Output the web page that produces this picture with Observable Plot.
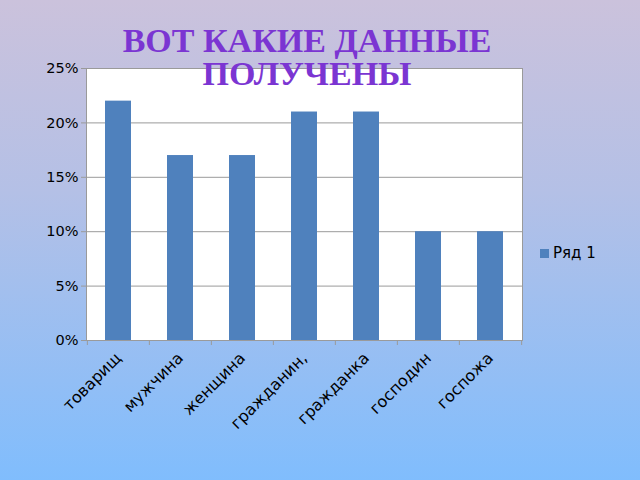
<!DOCTYPE html>
<html>
<head>
<meta charset="utf-8">
<script src="https://cdn.jsdelivr.net/npm/d3@7"></script>
<script src="https://cdn.jsdelivr.net/npm/@observablehq/plot@0.6"></script>
<style>
  html, body { margin: 0; padding: 0; }
  #stage {
    position: relative; width: 640px; height: 480px; overflow: hidden;
    background: linear-gradient(to bottom, #cbc2dc 0%, #b4c0e6 40%, #80bdfd 100%);
    font-family: "DejaVu Sans", sans-serif;
  }
  #chart { position: absolute; left: 0; top: 0; }
  #title {
    position: absolute; left: 0; width: 614px; top: 24px; text-align: center;
    font-family: "Liberation Serif", "DejaVu Serif", serif; font-weight: bold;
    font-size: 34px; line-height: 33px; color: #7b35d2; z-index: 2;
  }
  #legend {
    position: absolute; left: 540px; top: 244px; font-size: 15px; color: #000;
    display: flex; align-items: center;
  }
  #legend span.sw { width: 9px; height: 9px; background: #4f81bd; display: inline-block; margin-right: 4px; }
</style>
</head>
<body>
<div id="stage">
  <div id="chart"></div>
  <div id="title">ВОТ КАКИЕ ДАННЫЕ<br>ПОЛУЧЕНЫ</div>
  <div id="legend"><span class="sw"></span><span>Ряд 1</span></div>
</div>
<script>
const categories = ["товарищ", "мужчина", "женщина", "гражданин,", "гражданка", "господин", "госпожа"];
const values = [0.22, 0.17, 0.17, 0.21, 0.21, 0.10, 0.10];
const yTicks = [0, 0.05, 0.10, 0.15, 0.20, 0.25];
const seriesName = "Ряд 1";

const data = categories.map((c, i) => ({category: c, value: values[i]}));
const step = 436 / categories.length;

const plot = Plot.plot({
  width: 640,
  height: 480,
  marginLeft: 86,
  marginRight: 118,
  marginTop: 68,
  marginBottom: 140,
  style: {background: "transparent", fontFamily: "DejaVu Sans, sans-serif", color: "#000"},
  x: {domain: categories, paddingInner: 0.58, paddingOuter: 0.29, axis: null},
  y: {domain: [0, 0.25], axis: null},
  marks: [
    Plot.frame({fill: "white", stroke: "none"}),
    Plot.ruleY(yTicks, {stroke: "#9a9a9a", strokeWidth: 1}),
    Plot.frame({stroke: "#9a9a9a", fill: "none"}),
    Plot.barY(data, {x: "category", y: "value", fill: "#4f81bd"}),
    Plot.axisY({ticks: yTicks, tickFormat: d => Math.round(d * 100) + "%", tickSize: 5, tickPadding: 3, fontSize: 14.5, stroke: "#9a9a9a", label: null}),
    Plot.axisX({tickSize: 5, dx: -step / 2, stroke: "#9a9a9a", tickFormat: () => "", label: null}),
    Plot.axisX({ticks: [categories[categories.length - 1]], tickSize: 5, dx: step / 2, stroke: "#9a9a9a", tickFormat: () => "", label: null}),
    Plot.axisX({tickRotate: -45, fontSize: 16, textAnchor: "end", dx: 0, dy: 9, tickSize: 0, tickPadding: 6, label: null})
  ]
});
document.getElementById("chart").appendChild(plot);
</script>
</body>
</html>
